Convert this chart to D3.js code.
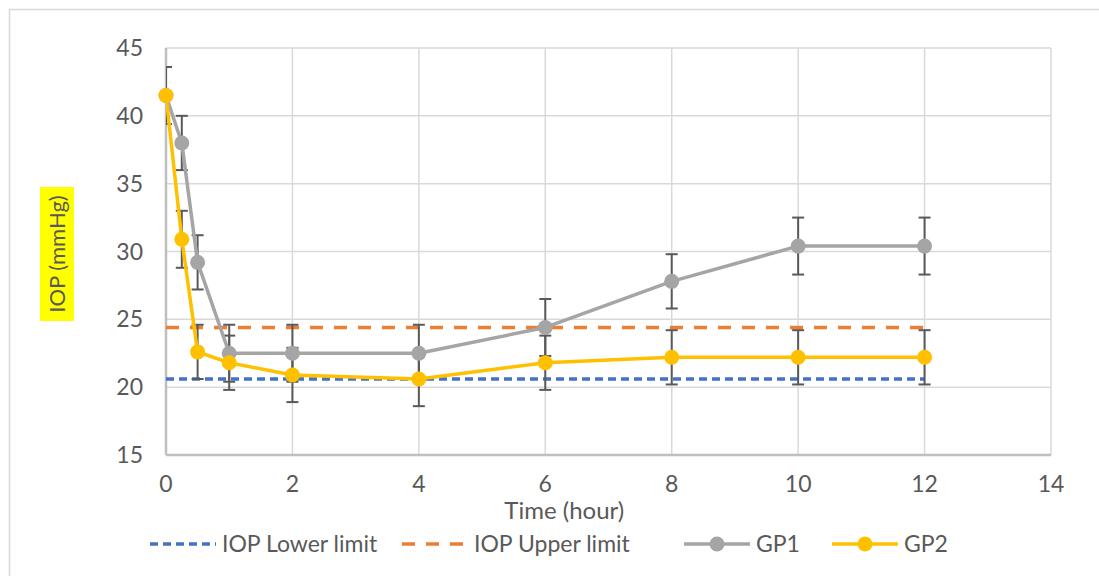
<!DOCTYPE html>
<html lang="en">
<head>
    <meta charset="utf-8" />
    <title>IOP over time</title>
    <script src="https://d3js.org/d3.v7.min.js"></script>
    <style>
        body { margin: 0; background: white; font-family: Lato, 'Open Sans', sans-serif; }
        svg text { fill: #595959; }
        .grid line { stroke: #d9d9d9; stroke-width: 1.5px; }
        .err line { stroke: #595959; stroke-width: 2px; }
    </style>
</head>
<body>
<svg id="chart" width="1099" height="576"></svg>
<script>
    // data
    var hours = [0, 0.25, 0.5, 1, 2, 4, 6, 8, 10, 12];
    var gp1 = [41.5, 38.0, 29.2, 22.5, 22.5, 22.5, 24.4, 27.8, 30.4, 30.4];
    var gp1Err = [2.1, 2.0, 2.0, 2.1, 2.1, 2.1, 2.1, 2.0, 2.1, 2.1];
    var gp2 = [41.5, 30.9, 22.6, 21.8, 20.9, 20.6, 21.8, 22.2, 22.2, 22.2];
    var gp2Err = [2.1, 2.1, 2.0, 2.0, 2.0, 2.0, 2.0, 2.0, 2.0, 2.0];
    var lowerLimit = 20.6;
    var upperLimit = 24.4;
    var xTicks = [0, 2, 4, 6, 8, 10, 12, 14];
    var yTicks = [15, 20, 25, 30, 35, 40, 45];

    var svg = d3.select("#chart");
    var margin = { left: 166, right: 1051, top: 48, bottom: 455 };

    var x = d3.scaleLinear().domain([0, 14]).range([margin.left, margin.right]);
    var y = d3.scaleLinear().domain([15, 45]).range([margin.bottom, margin.top]);

    // outer chart border
    svg.append("rect").attr("x", 9.5).attr("y", 9.5).attr("width", 1200).attr("height", 700)
        .attr("fill", "none").attr("stroke", "#d9d9d9").attr("stroke-width", 1.5);

    var grid = svg.append("g").attr("class", "grid");
    grid.selectAll("line.h").data(yTicks).enter().append("line").attr("class", "h")
        .attr("x1", x(0)).attr("x2", x(14)).attr("y1", d => y(d)).attr("y2", d => y(d));
    grid.selectAll("line.v").data(xTicks).enter().append("line").attr("class", "v")
        .attr("y1", y(15)).attr("y2", y(45)).attr("x1", d => x(d)).attr("x2", d => x(d));

    // axes lines
    svg.append("line").attr("x1", x(0)).attr("x2", x(14)).attr("y1", y(15)).attr("y2", y(15))
        .attr("stroke", "#bfbfbf").attr("stroke-width", 2.5);
    svg.append("line").attr("x1", x(0)).attr("x2", x(0)).attr("y1", y(15)).attr("y2", y(45))
        .attr("stroke", "#bfbfbf").attr("stroke-width", 2.5);

    // tick labels
    svg.append("g").selectAll("text").data(yTicks).enter().append("text")
        .attr("x", 143).attr("y", d => y(d)).attr("dy", "0.35em").attr("text-anchor", "end")
        .style("font-size", "23px").text(d => d);
    svg.append("g").selectAll("text").data(xTicks).enter().append("text")
        .attr("x", d => x(d)).attr("y", 492).attr("text-anchor", "middle")
        .style("font-size", "23px").text(d => d);

    // axis titles
    svg.append("text").attr("x", x(6.3)).attr("y", 519).attr("text-anchor", "middle")
        .style("font-size", "24px").text("Time (hour)");
    var yt = svg.append("g").attr("transform", "translate(57,254) rotate(-90)");
    yt.append("rect").attr("x", -67).attr("y", -17).attr("width", 134).attr("height", 34).attr("fill", "#ffff00");
    yt.append("text").attr("text-anchor", "middle").attr("dy", "0.35em").style("font-size", "22px").text("IOP (mmHg)");

    svg.append("clipPath").attr("id", "plot").append("rect")
        .attr("x", x(0)).attr("y", y(45)).attr("width", x(14) - x(0)).attr("height", y(15) - y(45));
    var plot = svg.append("g").attr("clip-path", "url(#plot)");

    // limit lines
    plot.append("line").attr("x1", x(0)).attr("x2", x(12)).attr("y1", y(lowerLimit)).attr("y2", y(lowerLimit))
        .attr("stroke", "#4472c4").attr("stroke-width", 3.5).attr("stroke-dasharray", "8,5");
    plot.append("line").attr("x1", x(0)).attr("x2", x(12)).attr("y1", y(upperLimit)).attr("y2", y(upperLimit))
        .attr("stroke", "#ed7d31").attr("stroke-width", 3.5).attr("stroke-dasharray", "13,11");

    function errBars(vals, errs) {
        var g = plot.append("g").attr("class", "err");
        hours.forEach(function (h, i) {
            var cx = x(h), top = y(vals[i] + errs[i]), bot = y(vals[i] - errs[i]);
            g.append("line").attr("x1", cx).attr("x2", cx).attr("y1", top).attr("y2", bot);
            g.append("line").attr("x1", cx - 6).attr("x2", cx + 6).attr("y1", top).attr("y2", top);
            g.append("line").attr("x1", cx - 6).attr("x2", cx + 6).attr("y1", bot).attr("y2", bot);
        });
    }
    errBars(gp1, gp1Err);
    errBars(gp2, gp2Err);

    var line = d3.line().x((d, i) => x(hours[i])).y(d => y(d));

    function series(vals, color) {
        plot.append("path").datum(vals).attr("d", line).attr("fill", "none")
            .attr("stroke", color).attr("stroke-width", 3.5).attr("stroke-linejoin", "round");
        svg.append("g").selectAll("circle").data(vals).enter().append("circle")
            .attr("cx", (d, i) => x(hours[i])).attr("cy", d => y(d)).attr("r", 7.5).attr("fill", color);
    }
    series(gp1, "#a5a5a5");
    series(gp2, "#ffc000");

    // legend
    var legend = [
        { name: "IOP Lower limit", color: "#4472c4", dash: "8,5", marker: false, x: 150 },
        { name: "IOP Upper limit", color: "#ed7d31", dash: "13,11", marker: false, x: 402 },
        { name: "GP1", color: "#a5a5a5", dash: null, marker: true, x: 684 },
        { name: "GP2", color: "#ffc000", dash: null, marker: true, x: 832 }
    ];
    var ly = 544;
    var lg = svg.append("g").selectAll("g").data(legend).enter().append("g");
    lg.append("line").attr("x1", d => d.x).attr("x2", d => d.x + 66).attr("y1", ly).attr("y2", ly)
        .attr("stroke", d => d.color).attr("stroke-width", 3.5).attr("stroke-dasharray", d => d.dash);
    lg.filter(d => d.marker).append("circle").attr("cx", d => d.x + 33).attr("cy", ly).attr("r", 7.5)
        .attr("fill", d => d.color);
    lg.append("text").attr("x", d => d.x + 72).attr("y", ly).attr("dy", "0.35em")
        .style("font-size", "23px").text(d => d.name);
</script>
</body>
</html>
